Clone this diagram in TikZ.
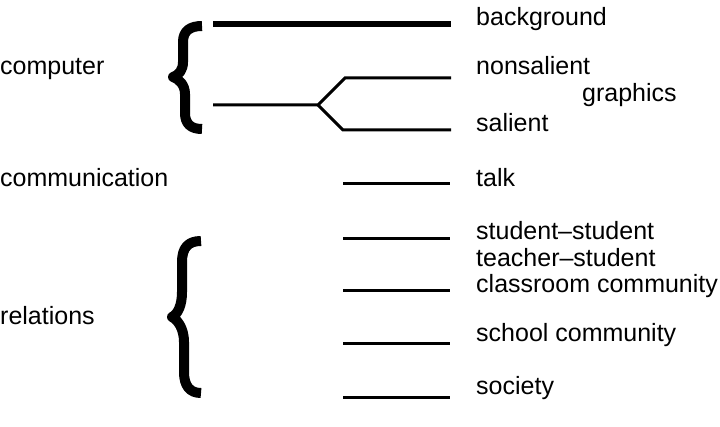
\documentclass[tikz,border=0pt]{standalone}
\usepackage{fontspec}
\setmainfont{Liberation Sans}
\begin{document}
\begin{tikzpicture}[x=1pt,y=-1pt,
  every node/.style={anchor=base west,inner sep=0pt,font=\fontsize{25}{30}\selectfont},
  strand/.style={line width=3pt},
  curly/.style={line width=10pt,line join=round}]
\useasboundingbox (0,0) rectangle (720,427);

\path(0,75) node(computer){computer} (0,187) node(communication){communication} (0,325) node(relations){relations};
\path(476,26) node(background){background} (476,75) node(nonsalient){nonsalient} (582,102) node(graphics){graphics} (476,132) node(salient){salient} (476,187) node(talk){talk};
\path(476,240) node(studstud){student--student} (476,267) node(teachstud){teacher--student} (476,293) node(classroom){classroom community} (476,342) node(school){school community} (476,394) node(society){society};

\path(213,24) coordinate(bgL) (451,24) coordinate(bgR);
\path(213,105) coordinate(grL) (318,105) coordinate(fork);
\path(345,78) coordinate(nsL) (451,78) coordinate(nsR) (343,130) coordinate(saL) (451,130) coordinate(saR);
\path(343,184) coordinate(talkL) (450,184) coordinate(talkR);
\path(343,239) coordinate(ssL) (450,239) coordinate(ssR) (343,291) coordinate(crL) (450,291) coordinate(crR);
\path(343,344) coordinate(scL) (450,344) coordinate(scR) (343,397) coordinate(soL) (450,397) coordinate(soR);

\draw[line width=6pt] (bgL) -- (bgR);
\draw[strand] (grL) -- (fork) -- (nsL) -- (nsR);
\draw[strand] (fork) -- (saL) -- (saR);
\draw[strand] (talkL) -- (talkR);
\draw[strand] (ssL) -- (ssR);
\draw[strand] (crL) -- (crR);
\draw[strand] (scL) -- (scR);
\draw[strand] (soL) -- (soR);

% braces
\draw[curly] (202,26) .. controls (190,26) and (183,31) .. (183,42) -- (183,62) .. controls (183,70) and (179,75) .. (173,77) .. controls (179,79) and (185,85) .. (185,94) -- (185,113) .. controls (185,124) and (191,129) .. (202,129);
\draw[curly] (201,241) .. controls (188,241) and (182,248) .. (182,262) -- (182,292) .. controls (182,305) and (178,314) .. (172,317) .. controls (178,320) and (184,329) .. (184,342) -- (184,372) .. controls (184,386) and (190,393) .. (201,393);
\end{tikzpicture}
\end{document}
